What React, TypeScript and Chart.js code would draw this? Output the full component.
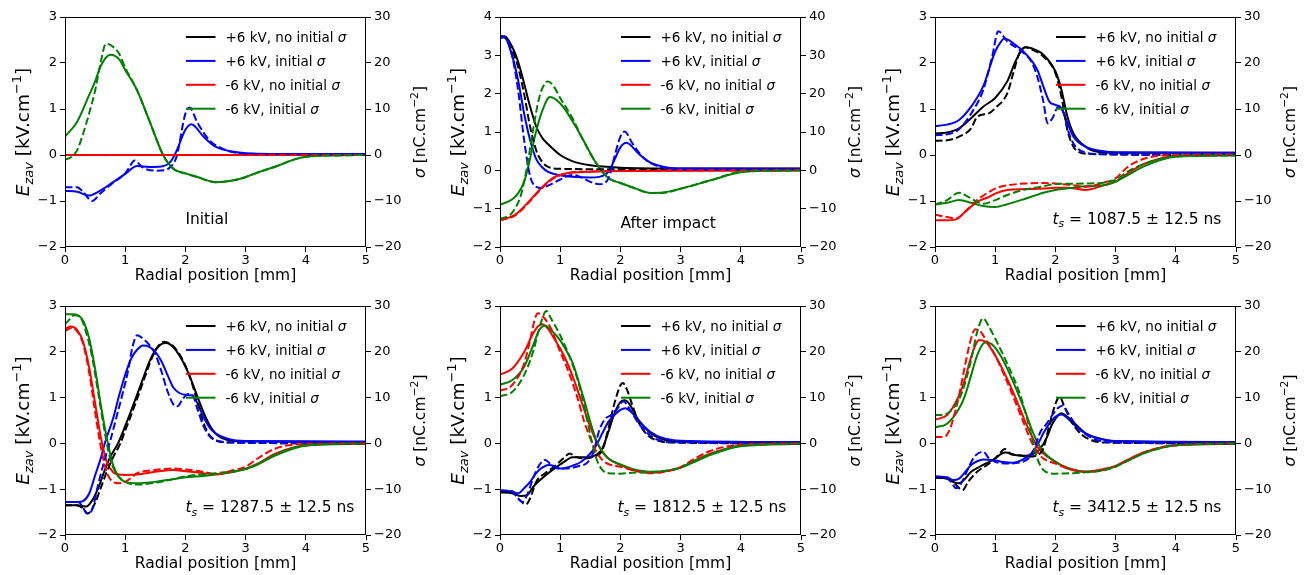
import React, { useEffect, useRef } from "react";
import { Chart, registerables } from "chart.js";
Chart.register(...registerables);

type Pt = [number, number];

// ---------- shared labels ----------
const X_TICKS = [0, 1, 2, 3, 4, 5];
const SERIES_LABELS = ["+6 kV, no initial ", "+6 kV, initial ", "-6 kV, no initial ", "-6 kV, initial "];
const SERIES_COLORS = ["#000000", "#0000ff", "#ff0000", "#008000"];
const NOTES = ["Initial", "After impact", "1087.5", "1287.5", "1812.5", "3412.5"];
const E_MAX = [3, 4, 3, 3, 3, 3];
const S_MAX = [30, 40, 30, 30, 30, 30];

// ---------- Panel 1 : Initial ----------
const P1_BLACK_E: Pt[] = [[0, 0], [5, 0]];
const P1_BLUE_E: Pt[] = [[0, -0.78], [0.2, -0.8], [0.4, -0.88], [0.55, -0.8], [0.8, -0.59], [1.0, -0.41], [1.2, -0.24], [1.4, -0.26], [1.6, -0.25], [1.75, -0.15], [1.85, 0.08], [2.0, 0.55], [2.1, 0.67], [2.3, 0.4], [2.5, 0.18], [2.8, 0.07], [3.0, 0.04], [4.0, 0.02], [5, 0.02]];
const P1_RED_E: Pt[] = [[0, 0], [5, 0]];
const P1_GREEN_E: Pt[] = [[0, 0.4], [0.2, 0.72], [0.4, 1.3], [0.5, 1.6], [0.6, 1.95], [0.75, 2.18], [0.9, 2.08], [1.0, 1.85], [1.2, 1.4], [1.4, 0.75], [1.63, 0], [1.8, -0.3], [2.0, -0.4], [2.2, -0.48], [2.5, -0.59], [2.9, -0.52], [3.0, -0.48], [3.2, -0.38], [3.5, -0.25], [3.8, -0.1], [4.0, -0.04], [4.5, -0.01], [5, 0]];
const P1_BLACK_S: Pt[] = [[0, 0], [5, 0]];
const P1_BLUE_S: Pt[] = [[0, -7], [0.2, -7], [0.3, -8], [0.45, -10], [0.6, -8.2], [0.8, -6], [1.0, -4], [1.1, -2], [1.15, -1.2], [1.3, -2.8], [1.5, -3.4], [1.65, -3.3], [1.75, -2.6], [1.85, -0.5], [2.0, 9], [2.07, 10.3], [2.2, 7], [2.4, 3.2], [2.6, 1.5], [2.8, 0.6], [3.0, 0.3], [4.0, 0.1], [5, 0]];
const P1_RED_S: Pt[] = [[0, 0], [5, 0]];
const P1_GREEN_S: Pt[] = [[0, -1], [0.1, -0.5], [0.2, 1], [0.3, 4.6], [0.4, 9], [0.5, 14], [0.6, 20.6], [0.68, 24.2], [0.8, 23.5], [0.9, 22], [1.0, 19], [1.2, 14], [1.4, 7.5], [1.63, 0], [1.8, -3], [2.0, -4], [2.2, -4.8], [2.5, -5.9], [2.9, -5.2], [3.0, -4.8], [3.2, -3.8], [3.5, -2.5], [3.8, -1], [4.0, -0.4], [4.5, -0.1], [5, 0]];

// ---------- Panel 2 : After impact ----------
const P2_BLACK_E: Pt[] = [[0, 3.5], [0.1, 3.47], [0.2, 3.23], [0.3, 2.84], [0.4, 2.27], [0.5, 1.66], [0.6, 1.15], [0.7, 0.85], [0.8, 0.68], [1.0, 0.4], [1.2, 0.24], [1.5, 0.13], [2.0, 0.07], [3.0, 0.05], [5, 0.05]];
const P2_BLUE_E: Pt[] = [[0, 3.45], [0.07, 3.47], [0.2, 3.0], [0.3, 2.36], [0.4, 1.49], [0.5, 0.79], [0.6, 0.3], [0.7, 0.08], [0.8, -0.04], [1.0, -0.13], [1.2, -0.17], [1.5, -0.19], [1.65, -0.17], [1.8, -0.04], [1.9, 0.27], [2.0, 0.6], [2.1, 0.72], [2.3, 0.44], [2.5, 0.2], [2.8, 0.07], [3.0, 0.05], [5, 0.04]];
const P2_RED_E: Pt[] = [[0, -1.3], [0.2, -1.2], [0.3, -1.1], [0.5, -0.78], [0.7, -0.44], [0.9, -0.18], [1.1, -0.08], [1.5, -0.04], [2.0, -0.02], [3.0, -0.01], [5, 0]];
const P2_GREEN_E: Pt[] = [[0, -0.9], [0.2, -0.76], [0.3, -0.6], [0.4, -0.3], [0.47, 0.1], [0.58, 0.89], [0.69, 1.5], [0.83, 1.91], [1.02, 1.71], [1.24, 1.19], [1.47, 0.54], [1.58, 0.23], [1.8, -0.2], [2.0, -0.33], [2.2, -0.44], [2.5, -0.59], [2.7, -0.58], [3.0, -0.48], [3.5, -0.26], [4.0, -0.05], [4.5, -0.01], [5, 0]];
const P2_BLACK_S: Pt[] = [[0, 35], [0.1, 34.5], [0.2, 31.4], [0.3, 27], [0.4, 20], [0.5, 11.4], [0.6, 5.3], [0.7, 2.2], [0.8, 0.9], [1.0, 0.4], [1.5, 0.3], [5, 0.2]];
const P2_BLUE_S: Pt[] = [[0, 34.5], [0.08, 35], [0.2, 30], [0.3, 21], [0.4, 8], [0.5, -1.5], [0.6, -4.3], [0.7, -4.6], [0.8, -4], [1.0, -2.4], [1.2, -1.2], [1.3, -1.5], [1.5, -3], [1.65, -3.6], [1.8, -2.2], [1.9, 3.5], [2.0, 8.8], [2.07, 10.1], [2.2, 7], [2.4, 3], [2.6, 1.2], [2.8, 0.5], [3.0, 0.3], [5, 0.2]];
const P2_RED_S: Pt[] = [[0, -13], [0.2, -12.2], [0.3, -11.2], [0.5, -8], [0.7, -4.6], [0.9, -2], [1.1, -0.8], [1.5, -0.3], [2, -0.15], [5, 0]];
const P2_GREEN_S: Pt[] = [[0, -12.7], [0.2, -11.1], [0.35, -6.3], [0.45, 1], [0.55, 10.6], [0.65, 18.9], [0.75, 22.8], [0.8, 23.2], [0.9, 21.7], [1.0, 18.9], [1.2, 13.7], [1.4, 7.3], [1.6, 1.8], [1.8, -2], [2.0, -3.3], [2.2, -4.5], [2.5, -5.9], [2.7, -5.9], [3.0, -4.8], [3.5, -2.6], [4.0, -0.4], [5, 0]];

// ---------- Panel 3 : 1087.5 ns ----------
const P3_BLACK_E: Pt[] = [[0, 0.47], [0.2, 0.49], [0.4, 0.58], [0.6, 0.8], [0.8, 1.05], [1.0, 1.24], [1.2, 1.6], [1.35, 2.07], [1.5, 2.34], [1.6, 2.32], [1.8, 2.18], [2.0, 1.82], [2.1, 1.42], [2.2, 0.83], [2.3, 0.47], [2.5, 0.18], [2.7, 0.07], [3.0, 0.05], [5, 0.05]];
const P3_BLUE_E: Pt[] = [[0, 0.63], [0.2, 0.66], [0.4, 0.76], [0.6, 1.05], [0.8, 1.49], [1.0, 2.25], [1.1, 2.47], [1.15, 2.53], [1.3, 2.43], [1.5, 2.21], [1.7, 1.85], [1.8, 1.49], [1.9, 1.16], [2.0, 1.09], [2.1, 1.02], [2.2, 0.69], [2.3, 0.4], [2.5, 0.18], [2.8, 0.08], [3.0, 0.06], [5, 0.05]];
const P3_RED_E: Pt[] = [[0, -1.42], [0.2, -1.42], [0.35, -1.4], [0.5, -1.24], [0.7, -1.02], [0.9, -0.91], [1.0, -0.84], [1.2, -0.76], [1.5, -0.74], [1.8, -0.73], [2.0, -0.71], [2.2, -0.71], [2.5, -0.76], [2.8, -0.66], [3.0, -0.58], [3.2, -0.4], [3.5, -0.18], [4.0, -0.02], [5, 0]];
const P3_GREEN_E: Pt[] = [[0, -1.08], [0.2, -1.04], [0.4, -0.98], [0.6, -1.04], [0.8, -1.11], [1.0, -1.13], [1.2, -1.07], [1.5, -0.95], [1.8, -0.82], [2.0, -0.76], [2.3, -0.71], [2.5, -0.68], [2.8, -0.66], [3.0, -0.58], [3.2, -0.44], [3.5, -0.23], [4.0, -0.04], [5, -0.01]];
const P3_BLACK_S: Pt[] = [[0, 3.1], [0.2, 3.2], [0.4, 4], [0.6, 5.8], [0.7, 8.3], [0.9, 9.1], [1.0, 10.2], [1.2, 13.4], [1.3, 17.8], [1.4, 22.1], [1.5, 23.4], [1.6, 23], [1.8, 21.4], [2.0, 17.8], [2.1, 12.7], [2.2, 5.4], [2.3, 1.8], [2.4, 0.6], [2.6, 0.2], [5, 0]];
const P3_BLUE_S: Pt[] = [[0, 4.3], [0.2, 4.5], [0.4, 5.6], [0.6, 9], [0.8, 14.1], [0.95, 21.4], [1.05, 26.9], [1.2, 24.7], [1.4, 22.9], [1.6, 20.3], [1.7, 17], [1.8, 11.6], [1.87, 6.9], [1.95, 8], [2.05, 10.5], [2.15, 8.7], [2.2, 5.8], [2.3, 2.5], [2.5, 0.5], [2.7, 0.2], [5, 0]];
const P3_RED_S: Pt[] = [[0, -13], [0.2, -13.5], [0.35, -13.8], [0.5, -12.3], [0.7, -9.8], [0.9, -8], [1.0, -7.3], [1.2, -6.6], [1.5, -6.2], [1.8, -6.1], [2.0, -6.2], [2.3, -6.6], [2.5, -6.9], [2.8, -6], [3.0, -5.1], [3.2, -2.6], [3.5, -0.7], [4.0, 0], [5, 0.1]];
const P3_GREEN_S: Pt[] = [[0, -10.8], [0.2, -9.8], [0.4, -8.2], [0.55, -9.1], [0.8, -10.6], [1.0, -9.8], [1.2, -8.7], [1.5, -7.5], [1.8, -6.8], [2.0, -6.3], [2.5, -6.2], [3.0, -5.4], [3.2, -3.6], [3.5, -1.8], [4.0, -0.3], [5, -0.1]];

// ---------- Panel 4 : 1287.5 ns ----------
const P4_BLACK_E: Pt[] = [[0, -1.35], [0.2, -1.35], [0.3, -1.37], [0.35, -1.38], [0.45, -1.25], [0.55, -0.98], [0.65, -0.62], [0.75, -0.3], [0.88, 0], [1.0, 0.38], [1.1, 0.72], [1.2, 1.07], [1.3, 1.43], [1.4, 1.78], [1.5, 2.03], [1.6, 2.17], [1.68, 2.19], [1.8, 2.1], [1.9, 1.92], [2.0, 1.68], [2.1, 1.37], [2.2, 1.02], [2.3, 0.68], [2.4, 0.4], [2.5, 0.22], [2.6, 0.12], [2.8, 0.05], [3.0, 0.04], [5, 0.03]];
const P4_BLUE_E: Pt[] = [[0, -1.28], [0.22, -1.28], [0.3, -1.26], [0.4, -1.1], [0.5, -0.7], [0.6, -0.3], [0.66, 0], [0.8, 0.55], [0.9, 1.05], [1.0, 1.5], [1.1, 1.85], [1.2, 2.05], [1.3, 2.14], [1.4, 2.11], [1.5, 2.0], [1.6, 1.8], [1.7, 1.5], [1.8, 1.22], [1.9, 1.1], [2.0, 1.06], [2.1, 1.05], [2.2, 0.88], [2.3, 0.58], [2.4, 0.35], [2.5, 0.22], [2.7, 0.1], [3.0, 0.05], [5, 0.04]];
const P4_RED_E: Pt[] = [[0, 2.5], [0.1, 2.55], [0.2, 2.48], [0.3, 2.22], [0.4, 1.67], [0.5, 0.88], [0.6, 0.1], [0.7, -0.42], [0.8, -0.63], [0.9, -0.68], [1.0, -0.69], [1.2, -0.68], [1.5, -0.62], [1.8, -0.58], [2.0, -0.61], [2.3, -0.65], [2.5, -0.67], [2.8, -0.62], [3.0, -0.55], [3.2, -0.44], [3.5, -0.22], [4.0, -0.04], [5, 0]];
const P4_GREEN_E: Pt[] = [[0, 2.82], [0.15, 2.82], [0.3, 2.68], [0.4, 2.3], [0.5, 1.63], [0.6, 0.8], [0.7, 0.08], [0.8, -0.48], [0.9, -0.74], [1.0, -0.84], [1.2, -0.87], [1.5, -0.84], [1.8, -0.78], [2.0, -0.74], [2.3, -0.71], [2.5, -0.68], [2.8, -0.62], [3.0, -0.56], [3.2, -0.46], [3.5, -0.26], [4.0, -0.05], [5, -0.01]];
const P4_BLACK_S: Pt[] = [[0, -13.5], [0.2, -13.5], [0.3, -14.2], [0.38, -15.3], [0.5, -13], [0.6, -9.5], [0.7, -6], [0.8, -3], [0.92, 0], [1.0, 2.8], [1.1, 6.2], [1.2, 9.8], [1.3, 13.5], [1.4, 17.2], [1.5, 20.3], [1.6, 22], [1.65, 22.2], [1.8, 21.2], [1.9, 19.5], [2.0, 17], [2.1, 13.5], [2.2, 9], [2.3, 4.5], [2.4, 1.8], [2.5, 0.7], [2.7, 0.2], [5, 0]];
const P4_BLUE_S: Pt[] = [[0, -12.8], [0.22, -12.8], [0.3, -14], [0.36, -15.3], [0.45, -14.5], [0.55, -9], [0.65, -4], [0.75, 0.5], [0.85, 5.5], [0.95, 10.5], [1.05, 16], [1.12, 21], [1.2, 23.6], [1.3, 22.8], [1.4, 21.5], [1.5, 19.5], [1.6, 15.8], [1.7, 11.5], [1.8, 8.5], [1.87, 8.1], [1.95, 9.6], [2.05, 10.8], [2.12, 10.5], [2.2, 7.5], [2.3, 3.8], [2.4, 1.6], [2.5, 0.7], [2.8, 0.2], [5, 0]];
const P4_RED_S: Pt[] = [[0, 24.5], [0.1, 25.2], [0.2, 24.5], [0.3, 21.8], [0.4, 15.6], [0.5, 6.9], [0.6, -1.1], [0.7, -6.5], [0.8, -8.4], [0.9, -8.7], [1.0, -8.4], [1.1, -7.5], [1.2, -6.5], [1.5, -5.8], [1.8, -5.5], [2.0, -5.7], [2.3, -6.2], [2.5, -6.8], [2.8, -5.8], [3.0, -5.1], [3.2, -3.3], [3.5, -1.1], [4.0, -0.1], [5, 0]];
const P4_GREEN_S: Pt[] = [[0, 26], [0.1, 27.4], [0.15, 28], [0.25, 27.6], [0.35, 24.3], [0.45, 18.9], [0.55, 11.2], [0.65, 3.2], [0.75, -3.3], [0.85, -6.5], [1.0, -8.4], [1.2, -9], [1.5, -8.6], [1.8, -7.8], [2.0, -7.2], [2.5, -6.5], [3.0, -5.6], [3.2, -4.5], [3.5, -2.4], [4.0, -0.4], [5, 0]];

// ---------- Panel 5 : 1812.5 ns ----------
const P5_BLACK_E: Pt[] = [[0, -1.07], [0.2, -1.09], [0.35, -1.15], [0.45, -1.13], [0.55, -0.95], [0.7, -0.76], [0.85, -0.6], [1.0, -0.46], [1.1, -0.37], [1.2, -0.3], [1.3, -0.3], [1.45, -0.3], [1.6, -0.25], [1.7, -0.11], [1.8, 0.25], [1.9, 0.65], [2.0, 0.9], [2.07, 0.94], [2.15, 0.86], [2.3, 0.51], [2.5, 0.22], [2.7, 0.09], [3.0, 0.04], [5, 0.02]];
const P5_BLUE_E: Pt[] = [[0, -1.03], [0.2, -1.05], [0.3, -1.09], [0.4, -0.98], [0.5, -0.84], [0.6, -0.65], [0.7, -0.53], [0.8, -0.47], [0.9, -0.49], [1.0, -0.55], [1.1, -0.53], [1.2, -0.49], [1.35, -0.4], [1.5, -0.22], [1.6, -0.04], [1.7, 0.22], [1.8, 0.47], [1.9, 0.62], [2.0, 0.73], [2.08, 0.77], [2.2, 0.66], [2.35, 0.43], [2.5, 0.25], [2.7, 0.12], [3.0, 0.06], [5, 0.03]];
const P5_RED_E: Pt[] = [[0, 1.5], [0.2, 1.63], [0.4, 1.99], [0.55, 2.4], [0.65, 2.58], [0.7, 2.6], [0.8, 2.5], [0.9, 2.29], [1.0, 2.07], [1.1, 1.81], [1.2, 1.49], [1.3, 1.12], [1.4, 0.73], [1.5, 0.36], [1.6, 0.04], [1.7, -0.18], [1.8, -0.33], [2.0, -0.47], [2.2, -0.58], [2.5, -0.64], [2.8, -0.6], [3.0, -0.53], [3.2, -0.4], [3.5, -0.22], [4.0, -0.05], [5, 0]];
const P5_GREEN_E: Pt[] = [[0, 1.28], [0.2, 1.38], [0.4, 1.67], [0.55, 2.14], [0.65, 2.47], [0.75, 2.57], [0.85, 2.47], [1.0, 2.25], [1.1, 2.03], [1.2, 1.78], [1.3, 1.38], [1.4, 0.94], [1.5, 0.47], [1.6, 0.07], [1.7, -0.18], [1.8, -0.33], [2.0, -0.46], [2.2, -0.56], [2.5, -0.62], [2.8, -0.59], [3.0, -0.53], [3.2, -0.42], [3.5, -0.25], [4.0, -0.06], [5, -0.01]];
const P5_BLACK_S: Pt[] = [[0, -10.5], [0.2, -10.5], [0.3, -12], [0.43, -13.3], [0.5, -12], [0.6, -8.4], [0.75, -6.5], [0.9, -5.1], [1.05, -3.3], [1.16, -2.2], [1.25, -2.9], [1.4, -3.3], [1.55, -2.9], [1.7, -1.5], [1.8, 3.2], [1.9, 8.7], [2.0, 12.7], [2.04, 13.2], [2.1, 12], [2.2, 8.3], [2.3, 4.7], [2.45, 1.8], [2.6, 0.7], [2.8, 0.2], [5, 0]];
const P5_BLUE_S: Pt[] = [[0, -10.3], [0.2, -10.5], [0.3, -12], [0.37, -12.8], [0.45, -11.3], [0.55, -7.6], [0.65, -4.8], [0.75, -3.6], [0.85, -4.7], [0.95, -5.5], [1.1, -5.5], [1.3, -5], [1.45, -4.2], [1.55, -2], [1.65, 2.9], [1.75, 5.4], [1.85, 6.2], [1.95, 7.6], [2.05, 9.2], [2.15, 7.6], [2.3, 4.4], [2.45, 2.2], [2.6, 0.9], [2.8, 0.3], [5, 0]];
const P5_RED_S: Pt[] = [[0, 11.5], [0.2, 12.7], [0.4, 17.4], [0.5, 22.5], [0.58, 27.2], [0.63, 28.4], [0.72, 27.6], [0.85, 25], [1.0, 20], [1.1, 17], [1.2, 13.4], [1.3, 9.4], [1.4, 4.7], [1.5, 1.1], [1.6, -1.8], [1.7, -3.6], [1.8, -4.5], [2.0, -5.1], [2.2, -5.8], [2.5, -6.5], [2.8, -6], [3.0, -5.2], [3.2, -3.6], [3.5, -1.6], [4.0, -0.3], [5, 0]];
const P5_GREEN_S: Pt[] = [[0, 10.3], [0.2, 11.2], [0.4, 14.9], [0.55, 20], [0.65, 25], [0.77, 28.9], [0.85, 27.2], [1.0, 23.6], [1.1, 20.7], [1.2, 17.4], [1.3, 13.4], [1.4, 8], [1.5, 1.8], [1.6, -3.3], [1.7, -5.8], [1.8, -6.5], [2.0, -6.6], [2.2, -6.4], [2.5, -6.3], [2.8, -5.9], [3.0, -5.2], [3.2, -4], [3.5, -2.3], [4.0, -0.5], [5, 0]];

// ---------- Panel 6 : 3412.5 ns ----------
const P6_BLACK_E: Pt[] = [[0, -0.75], [0.2, -0.77], [0.3, -0.84], [0.4, -0.87], [0.5, -0.77], [0.6, -0.62], [0.8, -0.47], [1.0, -0.33], [1.1, -0.23], [1.18, -0.2], [1.3, -0.25], [1.5, -0.27], [1.65, -0.22], [1.75, -0.11], [1.85, 0.11], [1.95, 0.43], [2.05, 0.62], [2.1, 0.66], [2.2, 0.58], [2.35, 0.4], [2.5, 0.22], [2.7, 0.12], [3.0, 0.05], [5, 0.02]];
const P6_BLUE_E: Pt[] = [[0, -0.73], [0.2, -0.74], [0.3, -0.8], [0.4, -0.77], [0.5, -0.63], [0.6, -0.47], [0.7, -0.39], [0.8, -0.35], [0.95, -0.36], [1.1, -0.4], [1.3, -0.42], [1.45, -0.36], [1.6, -0.22], [1.7, -0.04], [1.8, 0.22], [1.9, 0.43], [2.0, 0.58], [2.1, 0.63], [2.2, 0.55], [2.35, 0.36], [2.5, 0.22], [2.7, 0.11], [3.0, 0.05], [5, 0.03]];
const P6_RED_E: Pt[] = [[0, 0.52], [0.2, 0.62], [0.4, 1.05], [0.5, 1.41], [0.6, 1.89], [0.7, 2.22], [0.74, 2.26], [0.85, 2.21], [1.0, 1.92], [1.2, 1.41], [1.4, 0.8], [1.5, 0.47], [1.6, 0.18], [1.7, -0.07], [1.8, -0.22], [2.0, -0.4], [2.2, -0.55], [2.5, -0.62], [2.8, -0.56], [3.0, -0.49], [3.2, -0.36], [3.5, -0.18], [4.0, -0.04], [5, 0]];
const P6_GREEN_E: Pt[] = [[0, 0.35], [0.2, 0.43], [0.4, 0.76], [0.5, 1.05], [0.6, 1.49], [0.7, 1.92], [0.8, 2.18], [0.86, 2.21], [0.95, 2.16], [1.1, 1.89], [1.3, 1.34], [1.5, 0.69], [1.6, 0.33], [1.7, 0.03], [1.8, -0.18], [2.0, -0.4], [2.2, -0.53], [2.5, -0.62], [2.8, -0.58], [3.0, -0.5], [3.2, -0.38], [3.5, -0.2], [4.0, -0.04], [5, -0.01]];
const P6_BLACK_S: Pt[] = [[0, -7.5], [0.2, -7.6], [0.3, -8.4], [0.46, -10.2], [0.55, -8.4], [0.7, -6.2], [0.9, -4.4], [1.05, -2.6], [1.16, -1.2], [1.25, -2.2], [1.4, -2.6], [1.55, -2.9], [1.7, -2.6], [1.8, -1.1], [1.9, 4], [2.0, 8.6], [2.07, 10.2], [2.15, 8], [2.3, 4], [2.45, 1.8], [2.6, 0.7], [2.8, 0.2], [5, 0]];
const P6_BLUE_S: Pt[] = [[0, -7.2], [0.2, -7.5], [0.3, -9.1], [0.35, -9.8], [0.45, -8.4], [0.55, -5.5], [0.65, -3], [0.8, -1.8], [0.9, -3.3], [1.0, -4], [1.2, -4.4], [1.4, -4.2], [1.55, -3.3], [1.65, -1.1], [1.75, 2.5], [1.85, 4.2], [1.95, 6.2], [2.05, 7.8], [2.12, 8.3], [2.2, 6.8], [2.35, 3.8], [2.5, 2], [2.7, 0.7], [3.0, 0.2], [5, 0]];
const P6_RED_S: Pt[] = [[0, 1.4], [0.15, 1.4], [0.25, 3.2], [0.4, 10.5], [0.5, 17.1], [0.6, 22.9], [0.67, 24.9], [0.75, 24.5], [0.85, 22.5], [1.0, 19.2], [1.2, 13.4], [1.4, 6.9], [1.5, 3.6], [1.6, 0.4], [1.7, -1.8], [1.8, -3.3], [2.0, -4.4], [2.2, -5.4], [2.5, -6.2], [2.8, -5.8], [3.0, -5], [3.2, -3.6], [3.5, -1.8], [4.0, -0.4], [5, 0]];
const P6_GREEN_S: Pt[] = [[0, 6.2], [0.15, 6.3], [0.3, 7.6], [0.45, 11.2], [0.6, 18.2], [0.7, 24.3], [0.8, 27.3], [0.9, 25.4], [1.0, 22.9], [1.2, 17.4], [1.4, 11.2], [1.5, 6.9], [1.6, 1.8], [1.7, -3.3], [1.8, -5.8], [1.9, -6.5], [2.0, -6.6], [2.3, -6.5], [2.5, -6.3], [2.8, -5.9], [3.0, -5.1], [3.2, -3.8], [3.5, -2], [4.0, -0.4], [5, 0]];

// ---------- assembly ----------
const PANEL_E: Pt[][][] = [
  [P1_BLACK_E, P1_BLUE_E, P1_RED_E, P1_GREEN_E],
  [P2_BLACK_E, P2_BLUE_E, P2_RED_E, P2_GREEN_E],
  [P3_BLACK_E, P3_BLUE_E, P3_RED_E, P3_GREEN_E],
  [P4_BLACK_E, P4_BLUE_E, P4_RED_E, P4_GREEN_E],
  [P5_BLACK_E, P5_BLUE_E, P5_RED_E, P5_GREEN_E],
  [P6_BLACK_E, P6_BLUE_E, P6_RED_E, P6_GREEN_E],
];
const PANEL_S: Pt[][][] = [
  [P1_BLACK_S, P1_BLUE_S, P1_RED_S, P1_GREEN_S],
  [P2_BLACK_S, P2_BLUE_S, P2_RED_S, P2_GREEN_S],
  [P3_BLACK_S, P3_BLUE_S, P3_RED_S, P3_GREEN_S],
  [P4_BLACK_S, P4_BLUE_S, P4_RED_S, P4_GREEN_S],
  [P5_BLACK_S, P5_BLUE_S, P5_RED_S, P5_GREEN_S],
  [P6_BLACK_S, P6_BLUE_S, P6_RED_S, P6_GREEN_S],
];

const FONT = '"DejaVu Sans"';
const LABEL_SIZE = 15.5;
const YLABEL_SIZE = 18.5;
const TICK_SIZE = 13;
const LEGEND_SIZE = 13.5;

type Seg = { t: string; it?: boolean; sc?: number; dy?: number };

function segFont(s: Seg, size: number) {
  return `${s.it ? "italic " : ""}${(size * (s.sc || 1)).toFixed(2)}px ${FONT}`;
}
function richWidth(ctx: CanvasRenderingContext2D, segs: Seg[], size: number) {
  let w = 0;
  for (const s of segs) {
    ctx.font = segFont(s, size);
    w += ctx.measureText(s.t).width;
  }
  return w;
}
function drawRich(ctx: CanvasRenderingContext2D, segs: Seg[], x: number, y: number, size: number, align: "left" | "center") {
  const w = richWidth(ctx, segs, size);
  let cx = align === "center" ? x - w / 2 : x;
  ctx.textAlign = "left";
  ctx.textBaseline = "alphabetic";
  for (const s of segs) {
    ctx.font = segFont(s, size);
    ctx.fillText(s.t, cx, y + (s.dy || 0) * size);
    cx += ctx.measureText(s.t).width;
  }
}

const Y_LABEL: Seg[] = [
  { t: "E", it: true },
  { t: "zav", it: true, sc: 0.7, dy: 0.22 },
  { t: " [kV.cm" },
  { t: "\u22121", sc: 0.7, dy: -0.42 },
  { t: "]" },
];
const Y2_LABEL: Seg[] = [
  { t: "\u03c3", it: true },
  { t: " [nC.cm" },
  { t: "\u22122", sc: 0.7, dy: -0.42 },
  { t: "]" },
];
const X_LABEL = "Radial position [mm]";

function noteSegs(i: number): Seg[] {
  if (i < 2) return [{ t: NOTES[i] }];
  return [
    { t: "t", it: true },
    { t: "s", it: true, sc: 0.7, dy: 0.22 },
    { t: " = " + NOTES[i] + " \u00b1 12.5 ns" },
  ];
}

const PLOT_W = 301;
const COL_LEFT = [0, 435, 870];
const COL_W = [435, 435, 434];
const ROW_TOP = [0, 289];
const ROW_H = [288, 286];
const PLOT_H = [230, 229];
const PAD_TOP = 17;
const AXIS_LEFT_W = 65;

function Panel({ idx }: { idx: number }) {
  const ref = useRef<HTMLCanvasElement>(null);
  const col = idx % 3;
  const row = Math.floor(idx / 3);
  const W = COL_W[col];
  const H = ROW_H[row];

  useEffect(() => {
    const canvas = ref.current;
    if (!canvas) return;
    const datasets: any[] = [];
    PANEL_E[idx].forEach((pts, i) => {
      datasets.push({
        data: pts.map(([x, y]) => ({ x, y })),
        borderColor: SERIES_COLORS[i],
        borderWidth: 2,
        pointRadius: 0,
        fill: false,
        yAxisID: "y",
        cubicInterpolationMode: "monotone",
        borderJoinStyle: "round",
        order: 8 - i,
      });
    });
    PANEL_S[idx].forEach((pts, i) => {
      datasets.push({
        data: pts.map(([x, y]) => ({ x, y })),
        borderColor: SERIES_COLORS[i],
        borderWidth: 2,
        borderDash: [7.5, 3.2],
        pointRadius: 0,
        fill: false,
        yAxisID: "y2",
        cubicInterpolationMode: "monotone",
        borderJoinStyle: "round",
        order: 4 - i,
      });
    });

    const minus = (v: any) => String(v).replace("-", "\u2212");
    const gridCfg = { drawOnChartArea: false, drawTicks: true, tickLength: 5, tickWidth: 1, tickColor: "#000" };
    const tickFont = { family: FONT, size: TICK_SIZE };

    const deco = {
      id: "deco",
      afterDatasetsDraw(chart: any) {
        const { ctx, chartArea: a, scales } = chart;
        ctx.save();
        // frame
        ctx.strokeStyle = "#000";
        ctx.lineWidth = 1;
        ctx.strokeRect(Math.round(a.left) + 0.5, Math.round(a.top) + 0.5, Math.round(a.right - a.left) - 1, Math.round(a.bottom - a.top) - 1);
        ctx.fillStyle = "#000";
        // legend
        for (let i = 0; i < 4; i++) {
          const y = a.top + 20 + i * 23.9;
          ctx.strokeStyle = SERIES_COLORS[i];
          ctx.lineWidth = 2;
          ctx.setLineDash([]);
          ctx.beginPath();
          ctx.moveTo(a.right - 180, y);
          ctx.lineTo(a.right - 150.5, y);
          ctx.stroke();
          ctx.fillStyle = "#000";
          drawRich(ctx, [{ t: SERIES_LABELS[i] }, { t: "\u03c3", it: true }], a.right - 140.5, y + 5, LEGEND_SIZE, "left");
        }
        // note
        const nx = scales.x.getPixelForValue(idx >= 2 && idx !== 3 ? 1.95 : 2.0);
        const ny = scales.y.getPixelForValue(-1.5);
        drawRich(ctx, noteSegs(idx), nx, ny, LABEL_SIZE, "left");
        // axis labels
        drawRich(ctx, [{ t: X_LABEL }], (a.left + a.right) / 2, a.bottom + 33, LABEL_SIZE, "center");
        ctx.save();
        ctx.translate(a.left - 36, (a.top + a.bottom) / 2);
        ctx.rotate(-Math.PI / 2);
        drawRich(ctx, Y_LABEL, 0, 0, YLABEL_SIZE, "center");
        ctx.restore();
        ctx.save();
        ctx.translate(a.right + 59, (a.top + a.bottom) / 2);
        ctx.rotate(-Math.PI / 2);
        drawRich(ctx, Y2_LABEL, 0, 0, LABEL_SIZE, "center");
        ctx.restore();
        ctx.restore();
      },
    };

    const chart = new Chart(canvas, {
      type: "line",
      data: { datasets },
      plugins: [deco as any],
      options: {
        animation: false,
        responsive: false,
        devicePixelRatio: 1,
        events: [],
        layout: { padding: { top: PAD_TOP, left: 0, right: 0, bottom: 0 } },
        plugins: { legend: { display: false }, tooltip: { enabled: false } },
        scales: {
          x: {
            type: "linear",
            min: 0,
            max: 5,
            afterBuildTicks: (s: any) => {
              s.ticks = X_TICKS.map((v) => ({ value: v }));
            },
            afterFit: (s: any) => {
              s.height = H - PAD_TOP - PLOT_H[row];
            },
            ticks: { font: tickFont, color: "#000", padding: 1, maxRotation: 0, autoSkip: false, callback: (v: any) => String(v) },
            grid: gridCfg,
            border: { display: false },
          },
          y: {
            type: "linear",
            position: "left",
            min: -2,
            max: E_MAX[idx],
            afterFit: (s: any) => {
              s.width = AXIS_LEFT_W;
            },
            ticks: { stepSize: 1, font: tickFont, color: "#000", padding: 3, autoSkip: false, callback: minus },
            grid: gridCfg,
            border: { display: false },
          },
          y2: {
            type: "linear",
            position: "right",
            min: -20,
            max: S_MAX[idx],
            afterFit: (s: any) => {
              s.width = W - AXIS_LEFT_W - PLOT_W;
            },
            ticks: { stepSize: 10, font: tickFont, color: "#000", padding: 3, autoSkip: false, callback: minus },
            grid: gridCfg,
            border: { display: false },
          },
        },
      } as any,
    });
    return () => chart.destroy();
  }, [idx]);

  return (
    <canvas
      ref={ref}
      width={W}
      height={H}
      style={{ position: "absolute", left: COL_LEFT[col], top: ROW_TOP[row], width: W, height: H }}
    />
  );
}

export default function App() {
  return (
    <div style={{ position: "absolute", left: 0, top: 0, width: 1304, height: 575, background: "#fff", overflow: "hidden" }}>
      {[0, 1, 2, 3, 4, 5].map((i) => (
        <Panel key={i} idx={i} />
      ))}
    </div>
  );
}
